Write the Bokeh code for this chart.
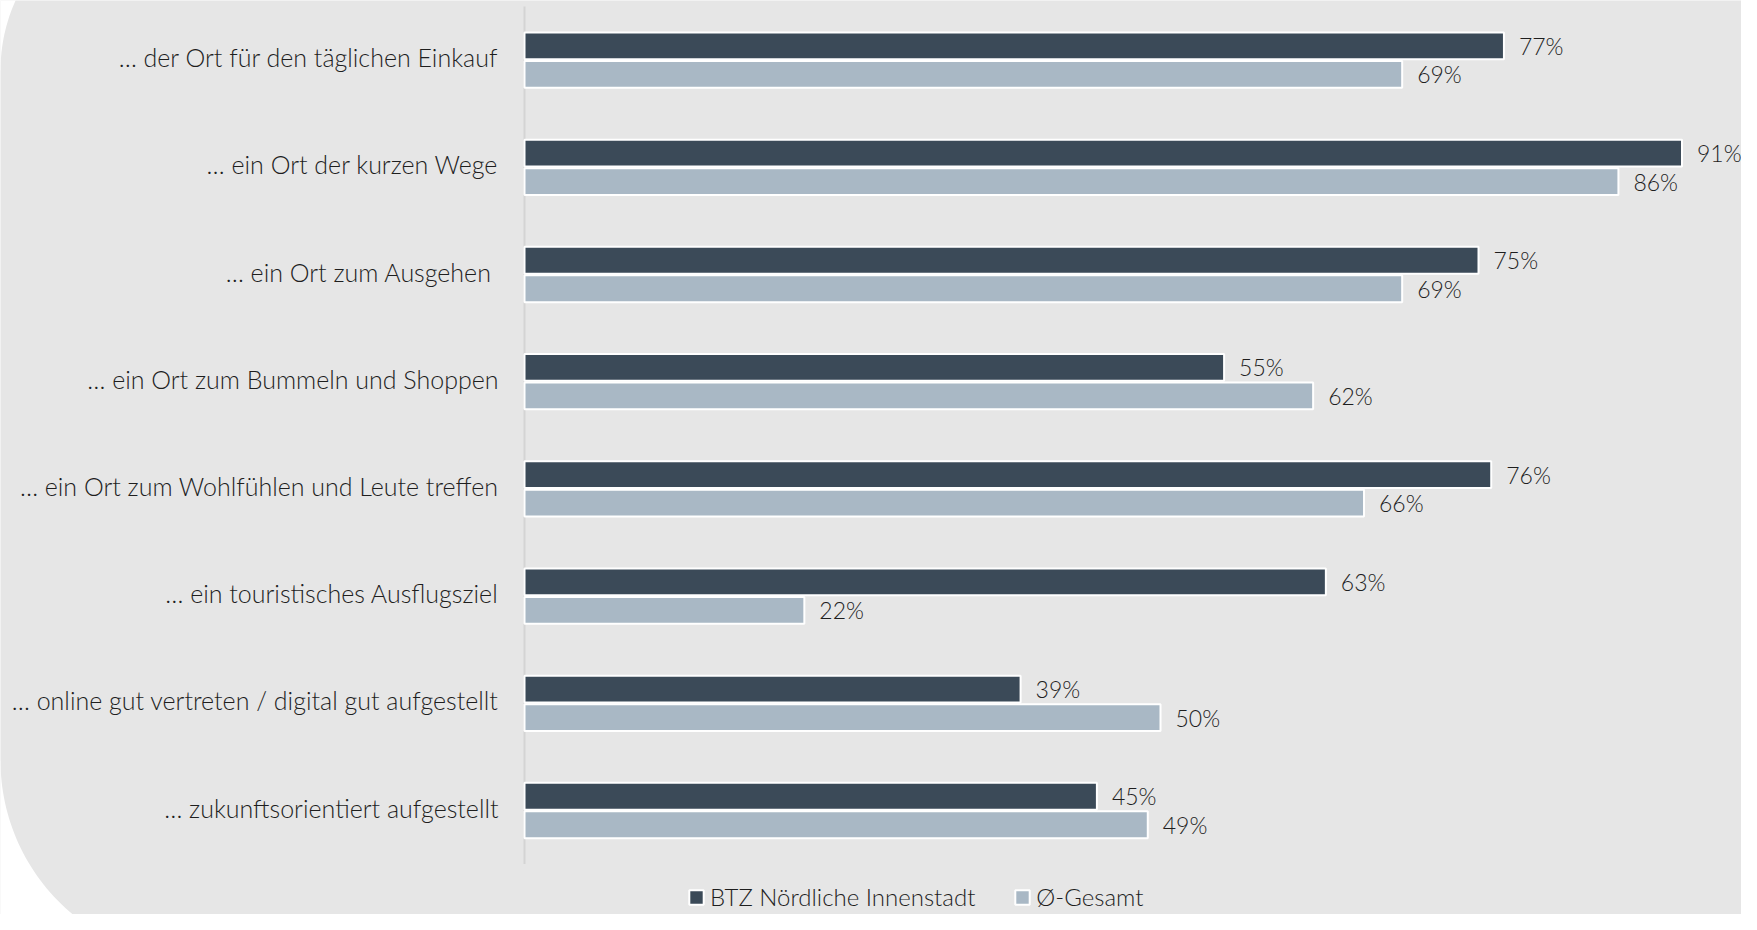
import numpy as np
from bokeh.plotting import figure
from bokeh.models import Range1d, ColumnDataSource, Legend, LegendItem
from bokeh.core.properties import value
from bokeh.embed import file_html
from bokeh.resources import INLINE

# ---- data ----
categories = [
    "… der Ort für den täglichen Einkauf",
    "… ein Ort der kurzen Wege",
    "… ein Ort zum Ausgehen ",
    "… ein Ort zum Bummeln und Shoppen",
    "… ein Ort zum Wohlfühlen und Leute treffen",
    "… ein touristisches Ausflugsziel",
    "… online gut vertreten / digital gut aufgestellt",
    "… zukunftsorientiert aufgestellt",
]
btz = [77, 91, 75, 55, 76, 63, 39, 45]
gesamt = [69, 86, 69, 62, 66, 22, 50, 49]
series_names = ["BTZ Nördliche Innenstadt", "Ø-Gesamt"]

# ---- style ----
W, H = 1741, 914
FONT = "Lato Light"
TXT = "#1e1e1e"
BG = "#e6e6e6"
DARK = "#3b4a58"
LIGHT = "#a9b8c5"
PX_PER_PCT = 12.72
X0_PX = 524
BAND_PX = 107.2
TOP_PX = 6

x_start = -X0_PX / PX_PER_PCT
x_end = (W - X0_PX) / PX_PER_PCT
y_top = (0 - TOP_PX) / BAND_PX
y_bottom = (H - TOP_PX) / BAND_PX

p = figure(width=W, height=H, output_backend="svg", toolbar_location=None,
           x_range=Range1d(x_start, x_end), y_range=Range1d(y_bottom, y_top),
           x_axis_location=None, y_axis_location=None,
           min_border=0, min_border_left=0, min_border_right=0,
           min_border_top=0, min_border_bottom=0)
p.background_fill_color = BG
p.border_fill_color = BG
p.outline_line_color = None
p.grid.visible = False

# pixel-space ranges for background decoration (rounded white corners)
p.extra_x_ranges = {"px": Range1d(0, W)}
p.extra_y_ranges = {"px": Range1d(H, 0)}

def corner_patch(cx, cy, r, down=True):
    t = np.linspace(0, np.pi / 2, 60)
    xs = cx - r * np.cos(t)
    ys = cy + r * np.sin(t) if down else cy - r * np.sin(t)
    far_y = cy + r + 20 if down else cy - r - 20
    xs = np.concatenate([[-20, cx - r], xs, [cx, -20]])
    ys = np.concatenate([[cy, cy], ys, [far_y, far_y]])
    return xs, ys

bx, by = corner_patch(200, 760, 200, down=True)
tx, ty = corner_patch(170, 70, 170, down=False)
p.patches([list(bx), list(tx)], [list(by), list(ty)], fill_color="white",
          line_color=None, x_range_name="px", y_range_name="px")

# axis line
p.segment(x0=[0], y0=[0], x1=[0], y1=[len(categories)], line_color="#d4d4d4",
          line_width=2)

ypos = np.arange(len(categories)) + 0.5
off = 0.133
src = ColumnDataSource(dict(cat=categories, y=ypos, y1=ypos - off, y2=ypos + off,
                            btz=btz, ges=gesamt,
                            btz_lab=[f"{v}%" for v in btz],
                            ges_lab=[f"{v}%" for v in gesamt]))

r1 = p.hbar(y="y1", left=0, right="btz", height=0.25, source=src,
            fill_color=DARK, line_color="white", line_width=2)
r2 = p.hbar(y="y2", left=0, right="ges", height=0.25, source=src,
            fill_color=LIGHT, line_color="white", line_width=2)

p.text(x="btz", y="y1", text="btz_lab", source=src, x_offset=15,
       text_baseline="middle", text_align="left", text_font=value(FONT),
       text_font_size="23px", text_color=TXT)
p.text(x="ges", y="y2", text="ges_lab", source=src, x_offset=15,
       text_baseline="middle", text_align="left", text_font=value(FONT),
       text_font_size="23px", text_color=TXT)

# category labels
p.text(x=0, y="y", text="cat", source=src, x_offset=-26, y_offset=-3,
       text_baseline="middle", text_align="right", text_font=value(FONT),
       text_font_size="25px", text_color=TXT)

legend = Legend(items=[LegendItem(label=series_names[0], renderers=[r1]),
                       LegendItem(label=series_names[1], renderers=[r2])],
                orientation="horizontal", location=(687, 3),
                glyph_width=18, glyph_height=18, label_standoff=5, spacing=38,
                padding=0, margin=0, background_fill_alpha=0,
                border_line_alpha=0, label_text_font=FONT,
                label_text_font_size="24px", label_text_color=TXT,
                label_height=20)
p.add_layout(legend, "center")

open("out.html", "w").write(file_html(p, INLINE))
